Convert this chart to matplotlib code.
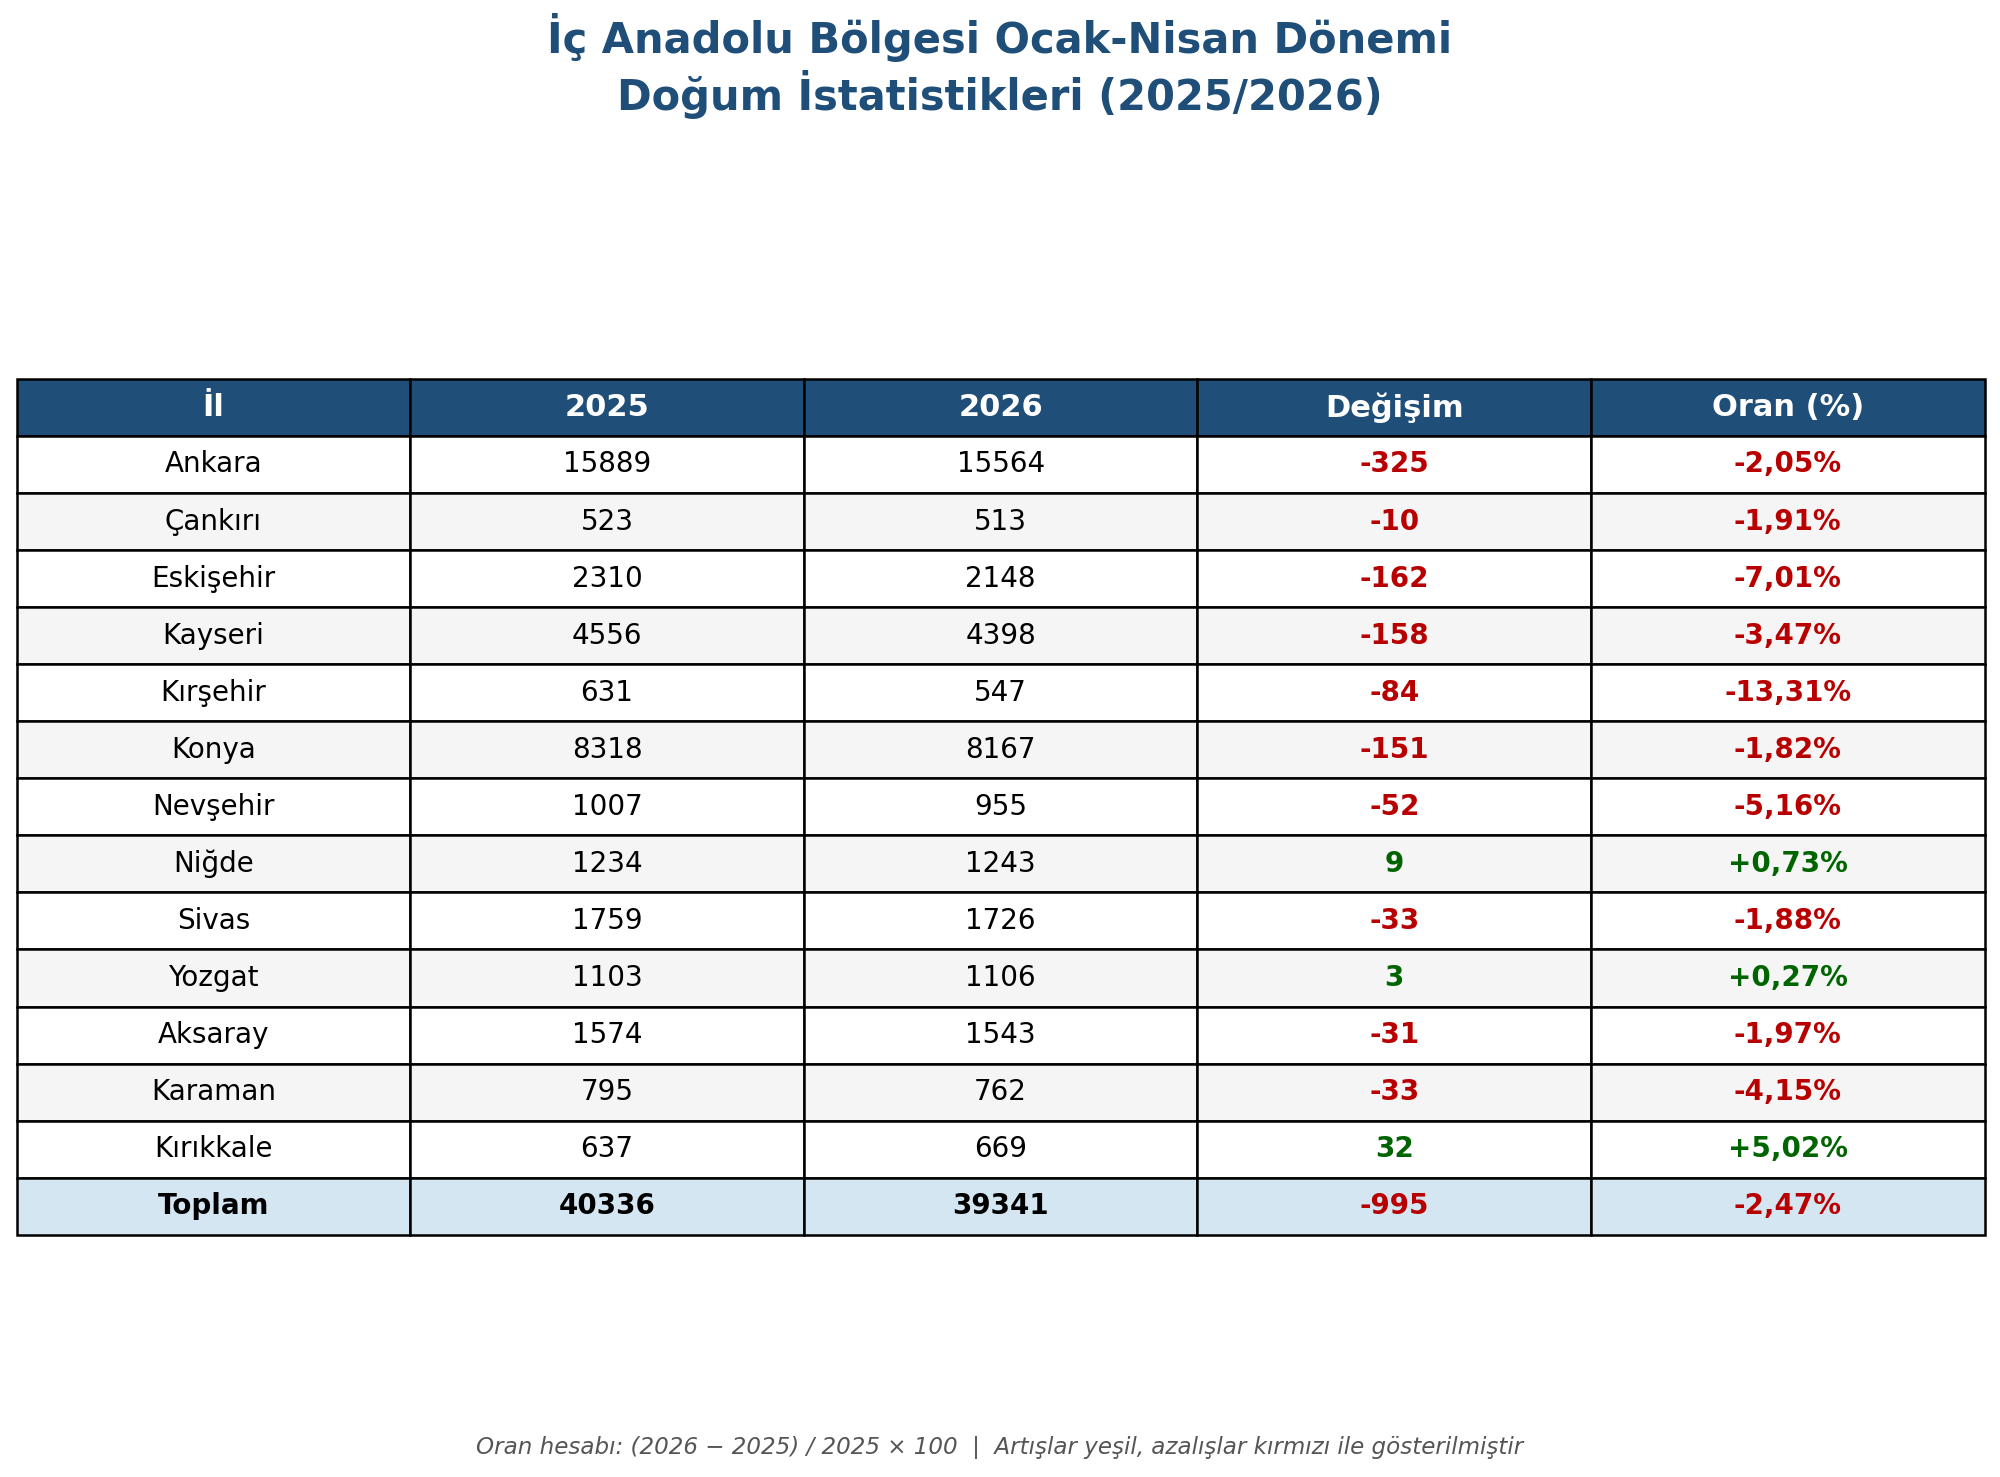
import matplotlib
matplotlib.use("Agg")
import matplotlib.pyplot as plt

# data
iller = ["Ankara", "Çankırı", "Eskişehir", "Kayseri", "Kırşehir", "Konya", "Nevşehir",
         "Niğde", "Sivas", "Yozgat", "Aksaray", "Karaman", "Kırıkkale"]
y2025 = [15889, 523, 2310, 4556, 631, 8318, 1007, 1234, 1759, 1103, 1574, 795, 637]
y2026 = [15564, 513, 2148, 4398, 547, 8167, 955, 1243, 1726, 1106, 1543, 762, 669]
basliklar = ["İl", "2025", "2026", "Değişim", "Oran (%)"]

HEADER = "#1f4e79"
RED = "#b80000"
GREEN = "#006400"


def fmt_pct(v):
    s = f"{v:+.2f}%".replace(".", ",")
    return s


rows = []
for il, a, b in zip(iller, y2025, y2026):
    d = b - a
    rows.append([il, str(a), str(b), str(d), fmt_pct(d / a * 100)])
t25, t26 = sum(y2025), sum(y2026)
td = t26 - t25
rows.append(["Toplam", str(t25), str(t26), str(td), fmt_pct(td / t25 * 100)])

fig = plt.figure(figsize=(10, 7.385), dpi=200)
ax = fig.add_axes([0, 0, 1, 1])
ax.axis("off")

tbl = ax.table(cellText=rows, colLabels=basliklar, cellLoc="center",
               bbox=[0.0083, 0.164, 0.984, 0.5795])
tbl.auto_set_font_size(False)
tbl.set_fontsize(10)

n = len(rows)
for (r, c), cell in tbl.get_celld().items():
    cell.set_edgecolor("black")
    cell.set_linewidth(0.9)
    txt = cell.get_text()
    if r == 0:
        cell.set_facecolor(HEADER)
        txt.set_color("white")
        txt.set_fontweight("bold")
        txt.set_fontsize(11)
        continue
    if r == n:
        cell.set_facecolor("#d5e6f3")
        txt.set_fontweight("bold")
    else:
        cell.set_facecolor("white" if r % 2 == 1 else "#f5f5f5")
    if c >= 3:
        val = rows[r - 1][3]
        txt.set_color(RED if val.startswith("-") else GREEN)
        txt.set_fontweight("bold")

fig.text(0.5, 0.955, "İç Anadolu Bölgesi Ocak-Nisan Dönemi\nDoğum İstatistikleri (2025/2026)",
         ha="center", va="center", fontsize=15, fontweight="bold", color=HEADER)
fig.text(0.5, 0.020,
         "Oran hesabı: (2026 − 2025) / 2025 × 100  |  Artışlar yeşil, azalışlar kırmızı ile gösterilmiştir",
         ha="center", va="center", fontsize=8.3, style="italic", color="#555555")

fig.savefig("out.png", dpi=200, facecolor="white")
